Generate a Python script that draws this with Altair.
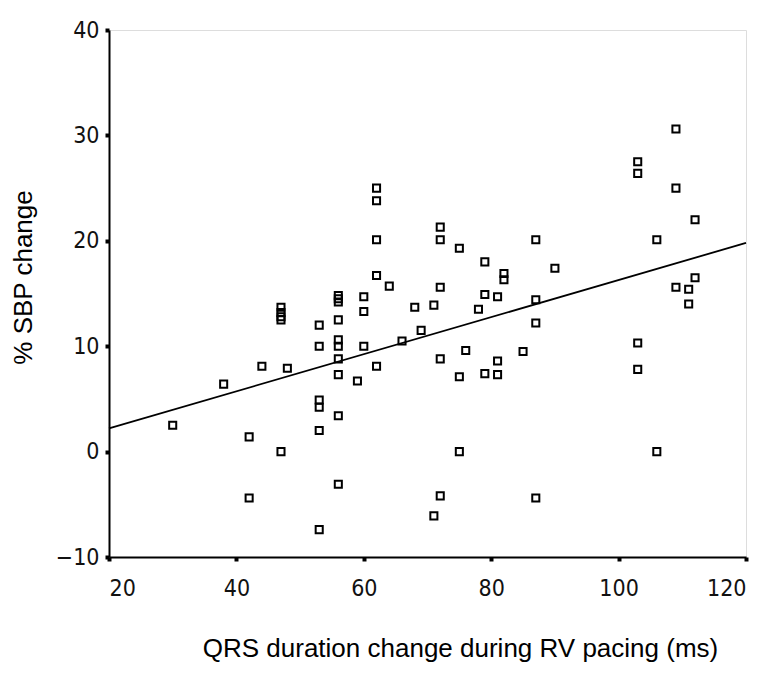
import altair as alt
import pandas as pd

# QRS duration change (ms) and % SBP change
qrs = [30, 38, 42, 42, 44,
       47, 47, 47, 47, 47, 48,
       53, 53, 53, 53, 53, 53,
       56, 56, 56, 56, 56, 56, 56, 56, 56, 56,
       59, 60, 60, 60,
       62, 62, 62, 62, 62, 64, 66, 68, 69, 71, 71,
       72, 72, 72, 72, 72, 75, 75, 75, 76, 78,
       79, 79, 79, 81, 81, 81, 82, 82, 85,
       87, 87, 87, 87, 90,
       103, 103, 103, 103, 106, 106,
       109, 109, 109, 111, 111, 112, 112]
sbp = [2.5, 6.4, 1.4, -4.4, 8.1,
       13.7, 13.2, 12.8, 12.5, 0.0, 7.9,
       12.0, 10.0, 4.9, 4.2, 2.0, -7.4,
       14.8, 14.5, 14.2, 12.5, 10.6, 10.0, 8.8, 7.3, 3.4, -3.1,
       6.7, 14.7, 13.3, 10.0,
       25.0, 23.8, 20.1, 16.7, 8.1, 15.7, 10.5, 13.7, 11.5, 13.9, -6.1,
       21.3, 20.1, 15.6, 8.8, -4.2, 19.3, 7.1, 0.0, 9.6, 13.5,
       18.0, 14.9, 7.4, 14.7, 8.6, 7.3, 16.9, 16.3, 9.5,
       20.1, 14.4, 12.2, -4.4, 17.4,
       27.5, 26.4, 10.3, 7.8, 20.1, 0.0,
       30.6, 25.0, 15.6, 15.4, 14.0, 22.0, 16.5]

# fitted line as drawn in the reference (ends of the line)
fit_qrs = [20, 120]
fit_sbp = [2.2, 19.8]

x_ticks = [20, 40, 60, 80, 100, 120]
y_ticks = [-10, 0, 10, 20, 30, 40]

df = pd.DataFrame({"qrs": qrs, "sbp": sbp})
fit_df = pd.DataFrame({"qrs": fit_qrs, "sbp": fit_sbp})

tick_font = "Liberation Sans Narrow, DejaVu Sans Condensed, Liberation Sans, sans-serif"

x_enc = alt.X(
    "qrs:Q",
    scale=alt.Scale(domain=[20, 120], nice=False, zero=False),
    axis=alt.Axis(
        values=x_ticks, grid=False, title="QRS duration change during RV pacing (ms)",
        domainColor="black", domainWidth=2, tickColor="black", tickSize=4, tickWidth=4,
        labelFont=tick_font, labelFontSize=23, labelFontWeight=300, labelColor="#111111",
        labelPadding=16,
        titleFont="Liberation Sans", titleFontSize=26, titleFontWeight="normal",
        titleColor="black", titleX=351, titleY=99, titleBaseline="alphabetic",
        titleAlign="center",
    ),
)
y_enc = alt.Y(
    "sbp:Q",
    scale=alt.Scale(domain=[-10, 40], nice=False, zero=False),
    axis=alt.Axis(
        values=y_ticks, grid=False, title="% SBP change",
        domainColor="black", domainWidth=2, tickColor="black", tickSize=4, tickWidth=4,
        labelFont=tick_font, labelFontSize=23, labelFontWeight=300, labelColor="#111111",
        labelPadding=6,
        titleFont="Liberation Sans", titleFontSize=26, titleFontWeight="normal",
        titleColor="black", titleX=-78, titleY=247, titleBaseline="alphabetic",
        titleAlign="center", titleAngle=-90,
    ),
)

points = alt.Chart(df).mark_point(
    shape="square", filled=False, color="black", size=50, strokeWidth=2, opacity=1
).encode(x=x_enc, y=y_enc)

line = alt.Chart(fit_df).mark_line(color="black", strokeWidth=1.8).encode(
    x=alt.X("qrs:Q"), y=alt.Y("sbp:Q")
)

chart = alt.layer(points, line).properties(
    width=637, height=527,
    autosize=alt.AutoSizeParams(type="none"),
    padding={"left": 101, "top": 22, "right": 20, "bottom": 118},
).configure_view(stroke="black", strokeWidth=2).configure(background="white")

chart.save("out.html", embed_options={"renderer": "svg", "actions": False})
